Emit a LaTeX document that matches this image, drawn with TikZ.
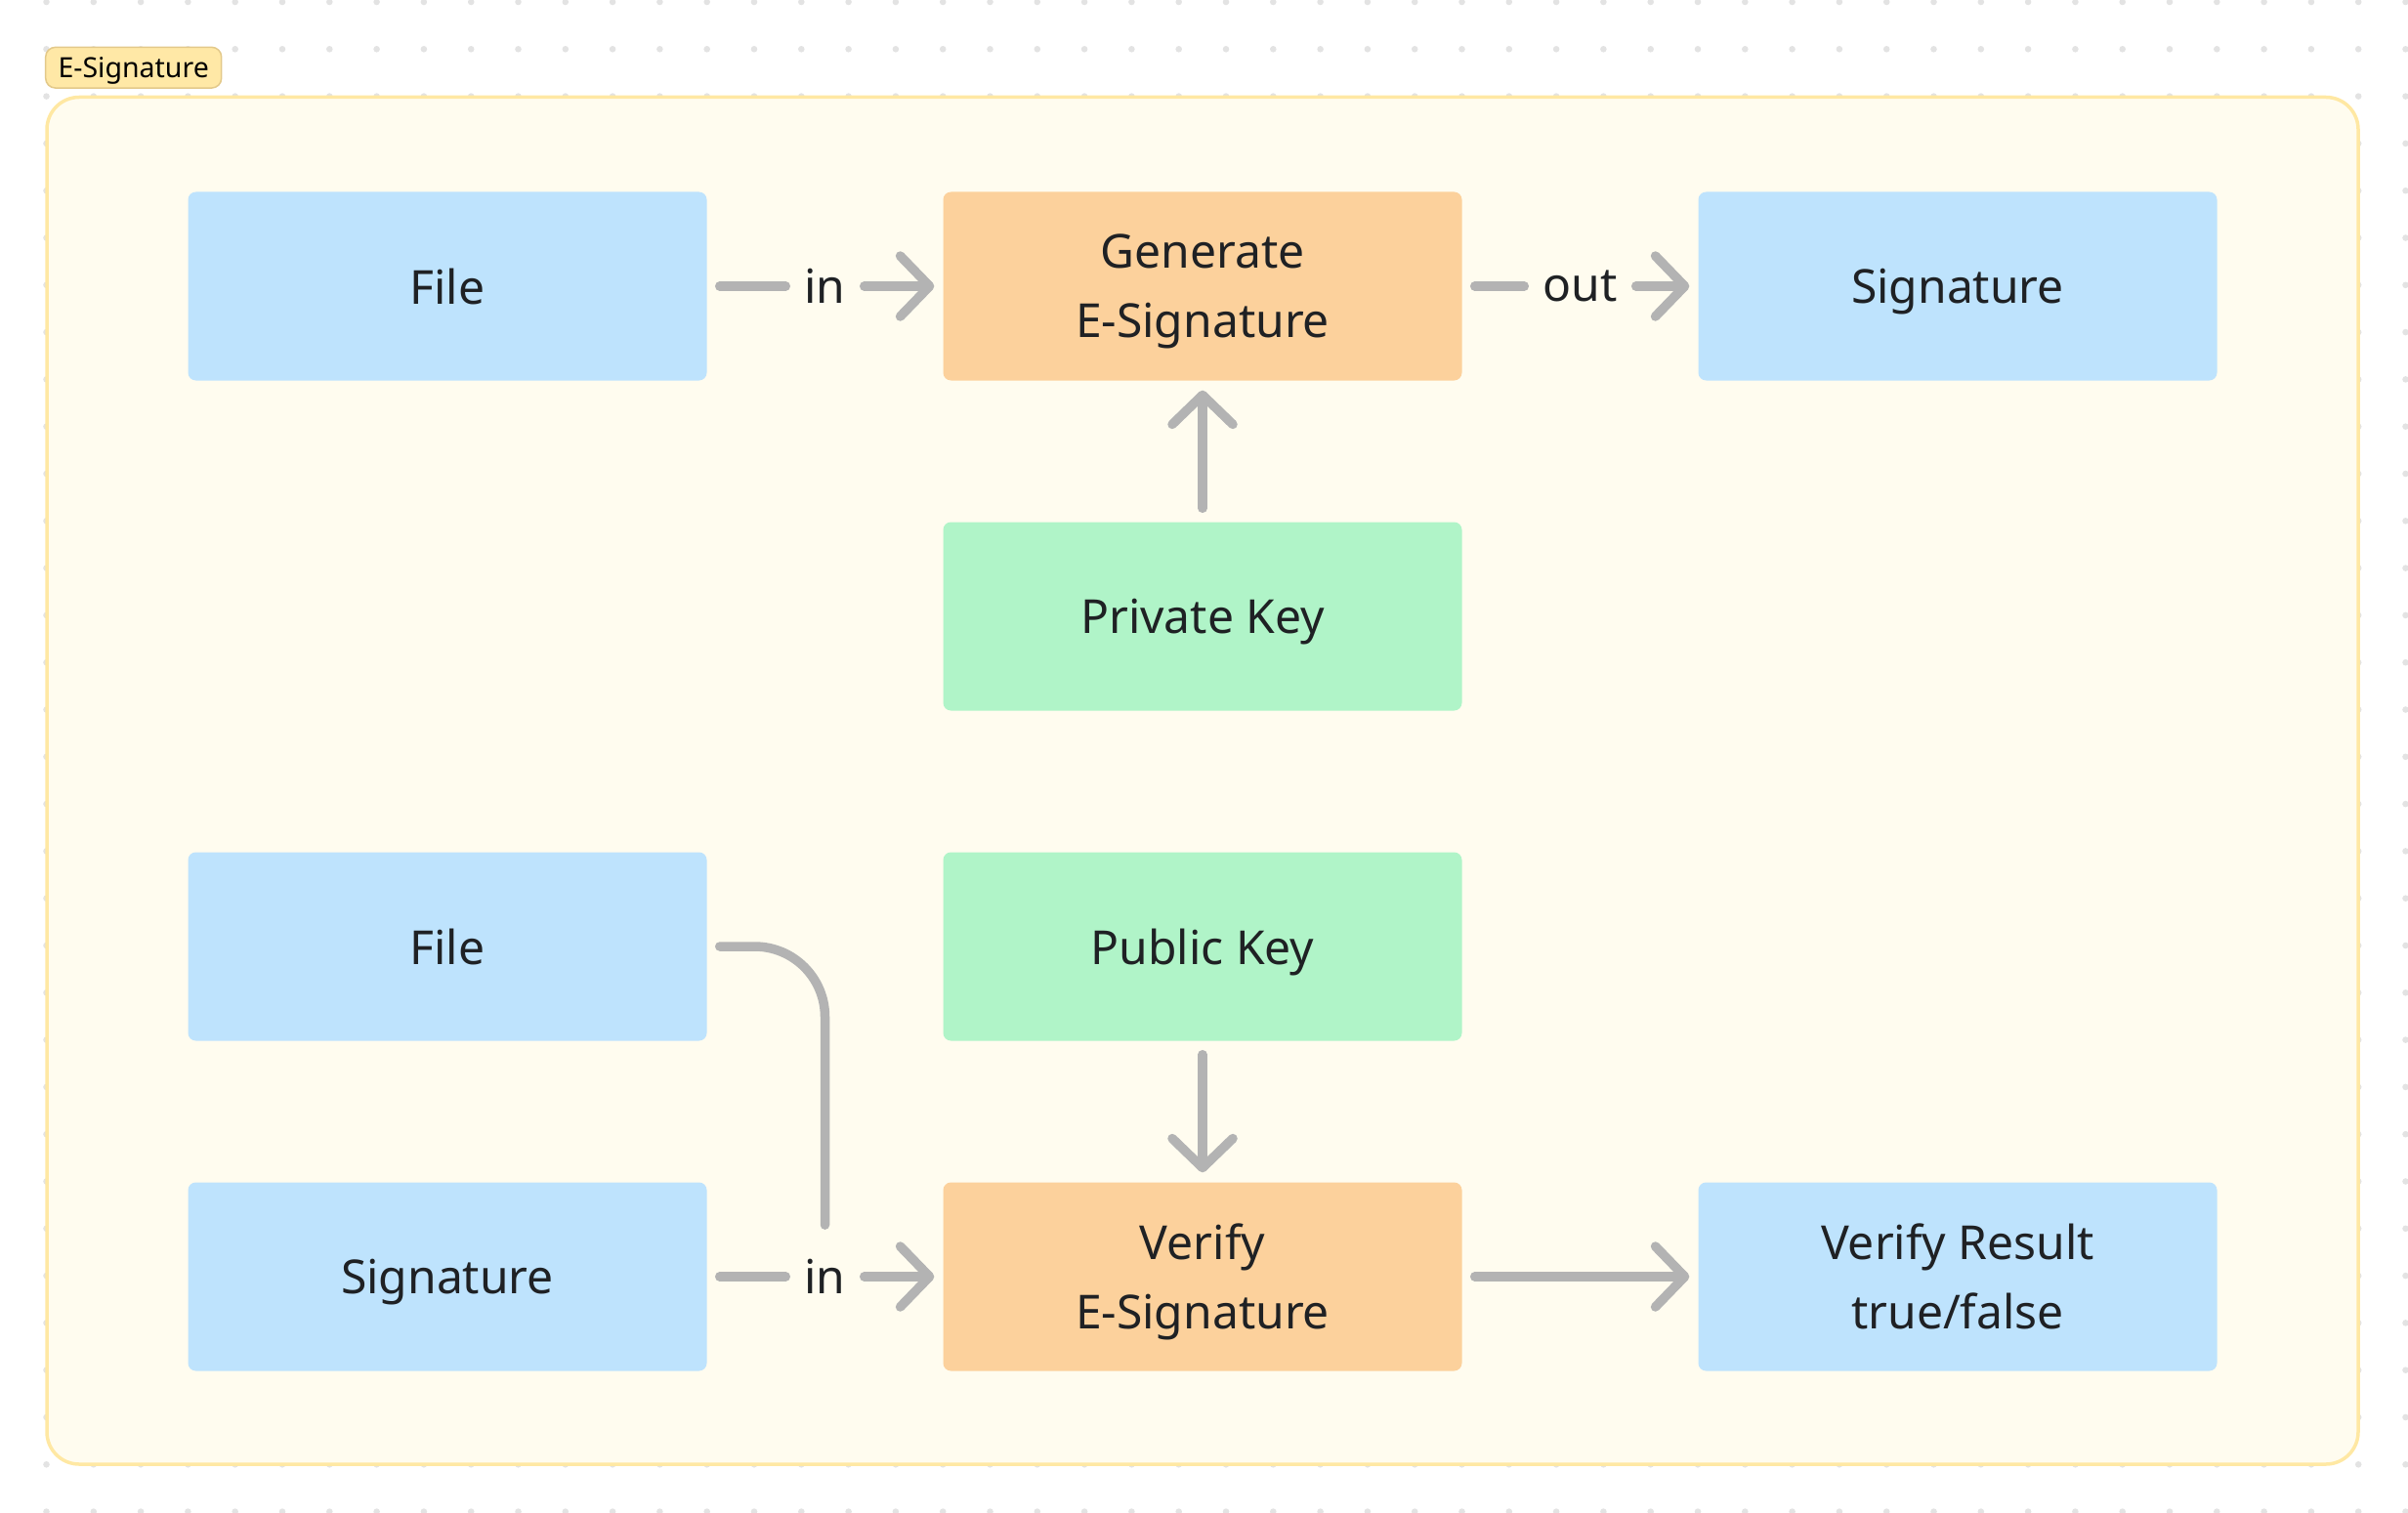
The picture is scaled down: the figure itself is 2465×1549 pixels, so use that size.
\documentclass[tikz,border=0pt]{standalone}
\usepackage{fontspec}
\setmainfont{Noto Sans}
\usetikzlibrary{arrows.meta,calc}
\definecolor{bluefill}{HTML}{BEE3FD}
\definecolor{orangefill}{HTML}{FCD19C}
\definecolor{greenfill}{HTML}{B0F4C8}
\definecolor{framefill}{HTML}{FFFCEF}
\definecolor{framedraw}{HTML}{FFE8A3}
\definecolor{tagfill}{HTML}{FFE8A6}
\definecolor{tagdraw}{HTML}{E3C98A}
\definecolor{wirec}{HTML}{B3B3B3}
\definecolor{ink}{HTML}{1F2124}
\definecolor{dotc}{HTML}{E3E3E3}
\begin{document}
\begin{tikzpicture}[x=1pt,y=-1pt,
  box/.style={minimum width=531pt,minimum height=193pt,rounded corners=8pt,inner sep=0pt,align=center,text=ink,text depth=0pt,font=\fontsize{48}{71}\selectfont},
  iobox/.style={box,fill=bluefill},
  procbox/.style={box,fill=orangefill},
  keybox/.style={box,fill=greenfill},
  lbl/.style={inner sep=0pt,text=ink,font=\fontsize{48}{58}\selectfont},
  wire/.style={draw=wirec,line width=9.5pt,line cap=round},
  arr/.style={wire,-{Straight Barb[length=30pt,width=62pt,round]}},
  tag/.style={minimum width=180pt,minimum height=41.7pt,rounded corners=10pt,fill=tagfill,draw=tagdraw,line width=1.5pt,inner sep=0pt,text=black,text depth=0pt,font=\fontsize{28.5}{34}\selectfont}
]
\useasboundingbox (0,0) rectangle (2465,1549);
% dot grid
\foreach \i in {0,...,50} {
  \foreach \j in {0,...,32} {
    \fill[dotc] (47.5+48.3*\i, 2+48.3*\j) circle (3.3pt);
  }
}
% frame
\draw[framedraw,fill=framefill,line width=3.5pt,rounded corners=33pt] (48,99.5) rectangle (2414,1499);
\node[tag] (tag) at (136.7,69.2) {E-Signature};

% nodes
\node[iobox] (file1) at (458,293) {File};
\node[procbox] (gen) at (1231,293) {Generate\\\smash{E-Signature}};
\node[iobox] (sig1) at (2004,293) {Signature};
\node[keybox] (priv) at (1231,631) {Private Key};
\node[iobox] (file2) at (458,969) {File};
\node[keybox] (pub) at (1231,969) {Public Key};
\node[iobox] (sig2) at (458,1307) {Signature};
\node[procbox] (ver) at (1231,1307) {Verify\\\smash{E-Signature}};
\node[iobox] (res) at (2004,1307) {Verify Result\\\smash{true/false}};

% labels
\node[lbl] (inA) at ($(file1.east)!0.5!(gen.west)$) {in};
\node[lbl] (outA) at ($(gen.east)!0.5!(sig1.west)$) {out};
\node[lbl] (inB) at ($(sig2.east)!0.5!(ver.west)$) {in};

% connectors
\draw[wire,shorten <=13pt,shorten >=19pt] (file1.east) -- (inA.west);
\draw[arr,shorten <=19pt,shorten >=9pt] (inA.east) -- (gen.west);
\draw[wire,shorten <=13pt,shorten >=19pt] (gen.east) -- (outA.west);
\draw[arr,shorten <=19pt,shorten >=9pt] (outA.east) -- (sig1.west);
\draw[arr,shorten <=14pt,shorten >=10pt] (priv.north) -- (gen.south);
\draw[arr,shorten <=14pt,shorten >=10pt] (pub.south) -- (ver.north);
\draw[wire,shorten <=13pt,shorten >=19pt] (sig2.east) -- (inB.west);
\draw[arr,shorten <=19pt,shorten >=9pt] (inB.east) -- (ver.west);
\draw[wire,rounded corners=72pt,shorten <=13pt,shorten >=35pt] (file2.east) -| (inB.north);
\draw[arr,shorten <=13pt,shorten >=9pt] (ver.east) -- (res.west);
\end{tikzpicture}
\end{document}
